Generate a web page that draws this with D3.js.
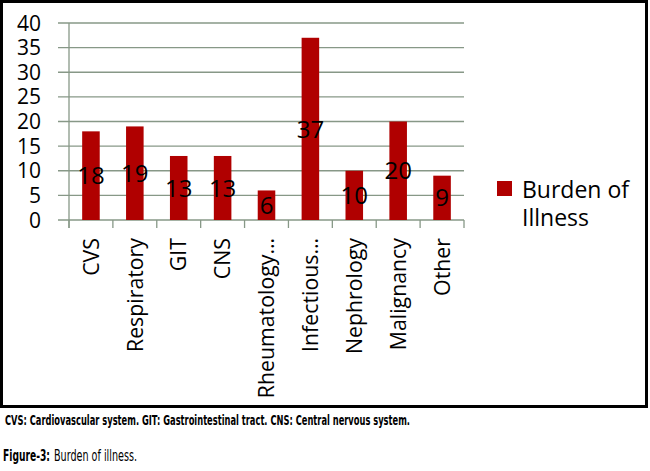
<!DOCTYPE html>
<html><head><meta charset="utf-8">
<script src="https://cdn.jsdelivr.net/npm/d3@7"></script>
<style>
html,body{margin:0;padding:0;background:#fff;}
svg{display:block;}
</style></head>
<body>
<script>
const categories = ["CVS","Respiratory","GIT","CNS","Rheumatology…","Infectious…","Nephrology","Malignancy","Other"];
const values = [18,19,13,13,6,37,10,20,9];
const yTicks = [0,5,10,15,20,25,30,35,40];
const seriesName = ["Burden of","Illness"];
const footnote = "CVS: Cardiovascular system. GIT: Gastrointestinal tract. CNS: Central nervous system.";
const figLabel = "Figure-3:";
const figTitle = "Burden of illness.";

const W = 650, H = 471;
const svg = d3.select("body").append("svg").attr("width", W).attr("height", H);
svg.append("rect").attr("width", W).attr("height", H).attr("fill", "#fff");
svg.append("rect").attr("x", 1.5).attr("y", 1.5).attr("width", 645).attr("height", 405)
  .attr("fill", "none").attr("stroke", "#000").attr("stroke-width", 3);

const x = d3.scaleBand().domain(categories).range([69, 464]).paddingInner(0.6).paddingOuter(0.3);
const y = d3.scaleLinear().domain([0, 40]).range([220, 23]);
const gridColor = "#879887";
const font = "'Open Sans', sans-serif";

// gridlines
svg.append("g").selectAll("line").data(yTicks).join("line")
  .attr("x1", 58).attr("x2", 464)
  .attr("y1", d => y(d)).attr("y2", d => y(d))
  .attr("stroke", gridColor).attr("stroke-width", 1.3);

// y axis line
svg.append("line").attr("x1", 69).attr("x2", 69).attr("y1", y(40)).attr("y2", 228)
  .attr("stroke", gridColor).attr("stroke-width", 1.3);

// x ticks at band boundaries
const step = x.step();
const bounds = d3.range(categories.length + 1).map(i => x.range()[0] + i * step);
svg.append("g").selectAll("line").data(bounds).join("line")
  .attr("x1", d => d).attr("x2", d => d).attr("y1", 220).attr("y2", 228)
  .attr("stroke", gridColor).attr("stroke-width", 1.3);

// y tick labels
svg.append("g").selectAll("text").data(yTicks).join("text")
  .attr("x", 41).attr("y", d => y(d)).attr("dy", "0.36em")
  .attr("text-anchor", "end").attr("font-family", font).attr("font-size", 21)
  .attr("fill", "#000").text(d => d);

// bars
svg.append("g").selectAll("rect").data(values).join("rect")
  .attr("x", (d, i) => x(categories[i])).attr("width", x.bandwidth())
  .attr("y", d => y(d)).attr("height", d => y(0) - y(d))
  .attr("fill", "#b00000");

// data labels
svg.append("g").selectAll("text").data(values).join("text")
  .attr("x", (d, i) => x(categories[i]) + x.bandwidth() / 2)
  .attr("y", d => y(d / 2)).attr("dy", "0.36em")
  .attr("text-anchor", "middle").attr("font-family", font).attr("font-size", 24)
  .attr("fill", "#000").text(d => d);

// x labels
svg.append("g").selectAll("text").data(categories).join("text")
  .attr("transform", d => `translate(${x(d) + x.bandwidth() / 2},238) rotate(-90)`)
  .attr("dy", "0.36em").attr("text-anchor", "end")
  .attr("font-family", font).attr("font-size", 21.3).attr("fill", "#000").text(d => d);

// legend
svg.append("rect").attr("x", 497).attr("y", 181).attr("width", 15).attr("height", 15).attr("fill", "#b00000");
svg.append("g").selectAll("text").data(seriesName).join("text")
  .attr("x", 522).attr("y", (d, i) => 198 + i * 28)
  .attr("font-family", font).attr("font-size", 23).attr("fill", "#000").text(d => d);

// captions
const capFont = "'Liberation Sans Narrow', 'DejaVu Sans Condensed', sans-serif";
svg.append("text").attr("x", 5).attr("y", 425)
  .attr("font-family", capFont).attr("font-weight", "bold").attr("font-size", 14)
  .attr("textLength", 405).attr("lengthAdjust", "spacingAndGlyphs")
  .attr("fill", "#000").text(footnote);
svg.append("text").attr("x", 3).attr("y", 461)
  .attr("font-family", capFont).attr("font-weight", "bold").attr("font-size", 15)
  .attr("textLength", 47).attr("lengthAdjust", "spacingAndGlyphs")
  .attr("fill", "#000").text(figLabel);
svg.append("text").attr("x", 54).attr("y", 461)
  .attr("font-family", capFont).attr("font-size", 15)
  .attr("textLength", 83).attr("lengthAdjust", "spacingAndGlyphs")
  .attr("fill", "#000").text(figTitle);
</script>
</body></html>
